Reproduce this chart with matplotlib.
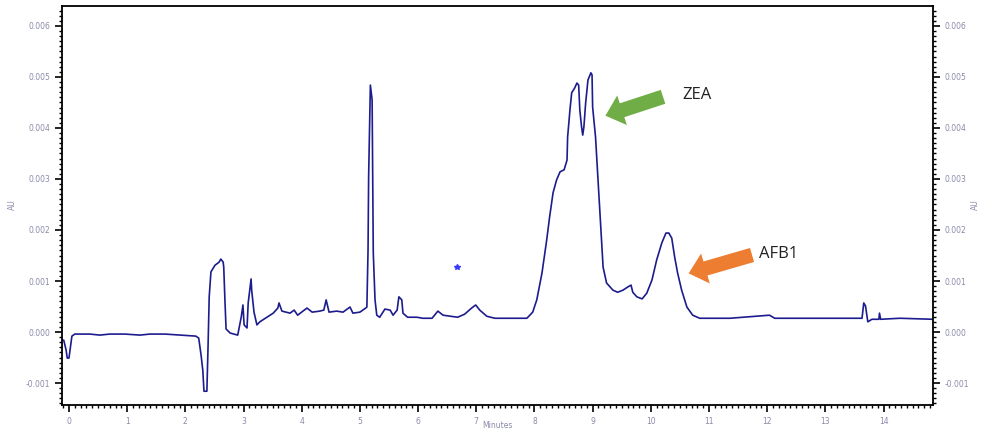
import matplotlib
matplotlib.use("Agg")
import matplotlib.pyplot as plt
from matplotlib.ticker import MultipleLocator, FuncFormatter

# Chromatogram trace (retention time in minutes, absorbance in AU)
time_min = [
    -0.12, -0.09, -0.05, -0.03, 0.00, 0.03, 0.05, 0.10, 0.36, 0.53, 0.70, 0.96, 1.22, 1.39,
    1.65, 1.91, 2.18, 2.23, 2.27, 2.30, 2.32, 2.37, 2.39, 2.41, 2.44, 2.51, 2.58, 2.61, 2.65,
    2.66, 2.68, 2.70, 2.77, 2.90, 2.96, 2.99, 3.01, 3.06, 3.08, 3.13, 3.14, 3.18, 3.23, 3.28,
    3.40, 3.51, 3.59, 3.61, 3.66, 3.80, 3.87, 3.93, 4.09, 4.18, 4.31, 4.38, 4.42, 4.47, 4.60,
    4.71, 4.83, 4.88, 5.00, 5.10, 5.12, 5.14, 5.15, 5.18, 5.21, 5.22, 5.23, 5.26, 5.29, 5.34,
    5.43, 5.52, 5.57, 5.64, 5.67, 5.72, 5.74, 5.82, 5.98, 6.08, 6.24, 6.34, 6.43, 6.55, 6.68,
    6.80, 6.92, 6.99, 7.06, 7.18, 7.32, 7.58, 7.87, 7.97, 8.04, 8.13, 8.21, 8.26, 8.32, 8.38,
    8.44, 8.51, 8.56, 8.57, 8.61, 8.64, 8.69, 8.73, 8.76, 8.78, 8.81, 8.83, 8.85, 8.88, 8.92,
    8.97, 8.99, 9.00, 9.05, 9.09, 9.14, 9.18, 9.24, 9.35, 9.43, 9.52, 9.60, 9.66, 9.69, 9.76,
    9.85, 9.93, 10.02, 10.10, 10.19, 10.26, 10.31, 10.36, 10.41, 10.46, 10.53, 10.62, 10.72,
    10.84, 11.36, 12.04, 12.13, 12.90, 13.63, 13.66, 13.69, 13.73, 13.80, 13.92, 13.93, 13.95,
    14.28, 14.85,
]
absorbance_au = [
    -0.00016, -0.00016, -0.00035, -0.00051, -0.00051, -0.00025, -0.00008, -0.00004, -0.00004,
    -0.00006, -0.00004, -0.00004, -0.00006, -0.00004, -0.00004, -0.00006, -0.00008, -0.00012,
    -0.00045, -0.00075, -0.00116, -0.00116, -0.00029, 0.00069, 0.00118, 0.00131, 0.00137,
    0.00143, 0.00137, 0.00127, 0.00063, 0.00006, -0.00002, -0.00006, 0.00029, 0.00053, 0.00014,
    0.00008, 0.00057, 0.00104, 0.00082, 0.00039, 0.00014, 0.00020, 0.00029, 0.00037, 0.00047,
    0.00057, 0.00041, 0.00037, 0.00043, 0.00033, 0.00047, 0.00039, 0.00041, 0.00043, 0.00063,
    0.00039, 0.00041, 0.00039, 0.00049, 0.00037, 0.00039, 0.00047, 0.00049, 0.00161, 0.00304,
    0.00484, 0.00455, 0.00304, 0.00155, 0.00063, 0.00033, 0.00029, 0.00045, 0.00043, 0.00033,
    0.00043, 0.00069, 0.00063, 0.00037, 0.00029, 0.00029, 0.00027, 0.00027, 0.00041, 0.00033,
    0.00031, 0.00029, 0.00035, 0.00047, 0.00053, 0.00043, 0.00031, 0.00027, 0.00027, 0.00027,
    0.00039, 0.00063, 0.00116, 0.00180, 0.00225, 0.00273, 0.00298, 0.00314, 0.00318, 0.00337,
    0.00382, 0.00435, 0.00469, 0.00478, 0.00488, 0.00484, 0.00435, 0.00402, 0.00386, 0.00402,
    0.00449, 0.00494, 0.00508, 0.00504, 0.00441, 0.00382, 0.00304, 0.00206, 0.00127, 0.00096,
    0.00082, 0.00078, 0.00082, 0.00088, 0.00092, 0.00078, 0.00069, 0.00065, 0.00076, 0.00102,
    0.00141, 0.00175, 0.00194, 0.00194, 0.00184, 0.00147, 0.00116, 0.00082, 0.00049, 0.00033,
    0.00027, 0.00027, 0.00033, 0.00027, 0.00027, 0.00027, 0.00057, 0.00051, 0.00020, 0.00025,
    0.00025, 0.00037, 0.00025, 0.00027, 0.00025,
]

# Stray marker
marker_time = [6.67]
marker_au = [0.00127]

# Annotations: label, text position, arrow tail, arrow head, colour
peak_labels = ["ZEA", "AFB1"]
label_pos = [(10.55, 0.00465), (11.86, 0.00153)]
arrow_tail = [(10.21, 0.00461), (11.74, 0.00151)]
arrow_head = [(9.22, 0.00424), (10.65, 0.00115)]
arrow_colors = ["#70ad47", "#ed7d31"]

x_major_ticks = list(range(0, 15))
y_major_ticks = [-0.001, 0.000, 0.001, 0.002, 0.003, 0.004, 0.005, 0.006]

W, H = 982, 429
fig = plt.figure(figsize=(W / 100, H / 100), dpi=100)
ax = fig.add_axes([62 / W, 1 - 405 / H, (933 - 62) / W, (405 - 6) / H])

line_color = "#1c1c8e"
ax.plot(time_min, absorbance_au, color=line_color, lw=1.2)
ax.plot(marker_time, marker_au, ls="none", marker="*", ms=4, color="#3a3aff")

ax.set_xlim(-0.12, 14.85)
ax.set_ylim(-0.00143, 0.00639)

label_color = "#8a8aaa"
ax.set_xticks(x_major_ticks)
ax.set_yticks(y_major_ticks)
ax.xaxis.set_minor_locator(MultipleLocator(0.1))
ax.yaxis.set_minor_locator(MultipleLocator(0.0001))
ax.yaxis.set_major_formatter(FuncFormatter(lambda v, p: f"{v:.3f}"))
ax.tick_params(axis="both", which="major", length=5, width=1.2, labelsize=5.5,
               labelcolor=label_color, direction="out")
ax.tick_params(axis="both", which="minor", length=2.5, width=1.0, direction="out")
ax.tick_params(axis="y", which="both", left=True, right=True, labelleft=True, labelright=True)
ax.tick_params(axis="x", pad=4)
for s in ax.spines.values():
    s.set_linewidth(1.3)
    s.set_color("black")

fig.text(12 / W, 1 - 205 / H, "AU", rotation=90, ha="center", va="center",
         fontsize=5.5, color=label_color)
fig.text(975 / W, 1 - 205 / H, "AU", rotation=90, ha="center", va="center",
         fontsize=5.5, color=label_color)
fig.text(497 / W, 1 - 425 / H, "Minutes", ha="center", va="center",
         fontsize=5.5, color=label_color)

for lab, pos, tail, head, col in zip(peak_labels, label_pos, arrow_tail, arrow_head, arrow_colors):
    ax.annotate("", xy=head, xytext=tail,
                arrowprops=dict(arrowstyle="simple,head_width=1.6,head_length=0.9,tail_width=0.75",
                                color=col, mutation_scale=14, shrinkA=0, shrinkB=0, lw=0))
    ax.text(pos[0], pos[1], lab, fontsize=12, color="#222222", ha="left", va="center",
            family="Open Sans")

fig.savefig("out.png", dpi=100)
